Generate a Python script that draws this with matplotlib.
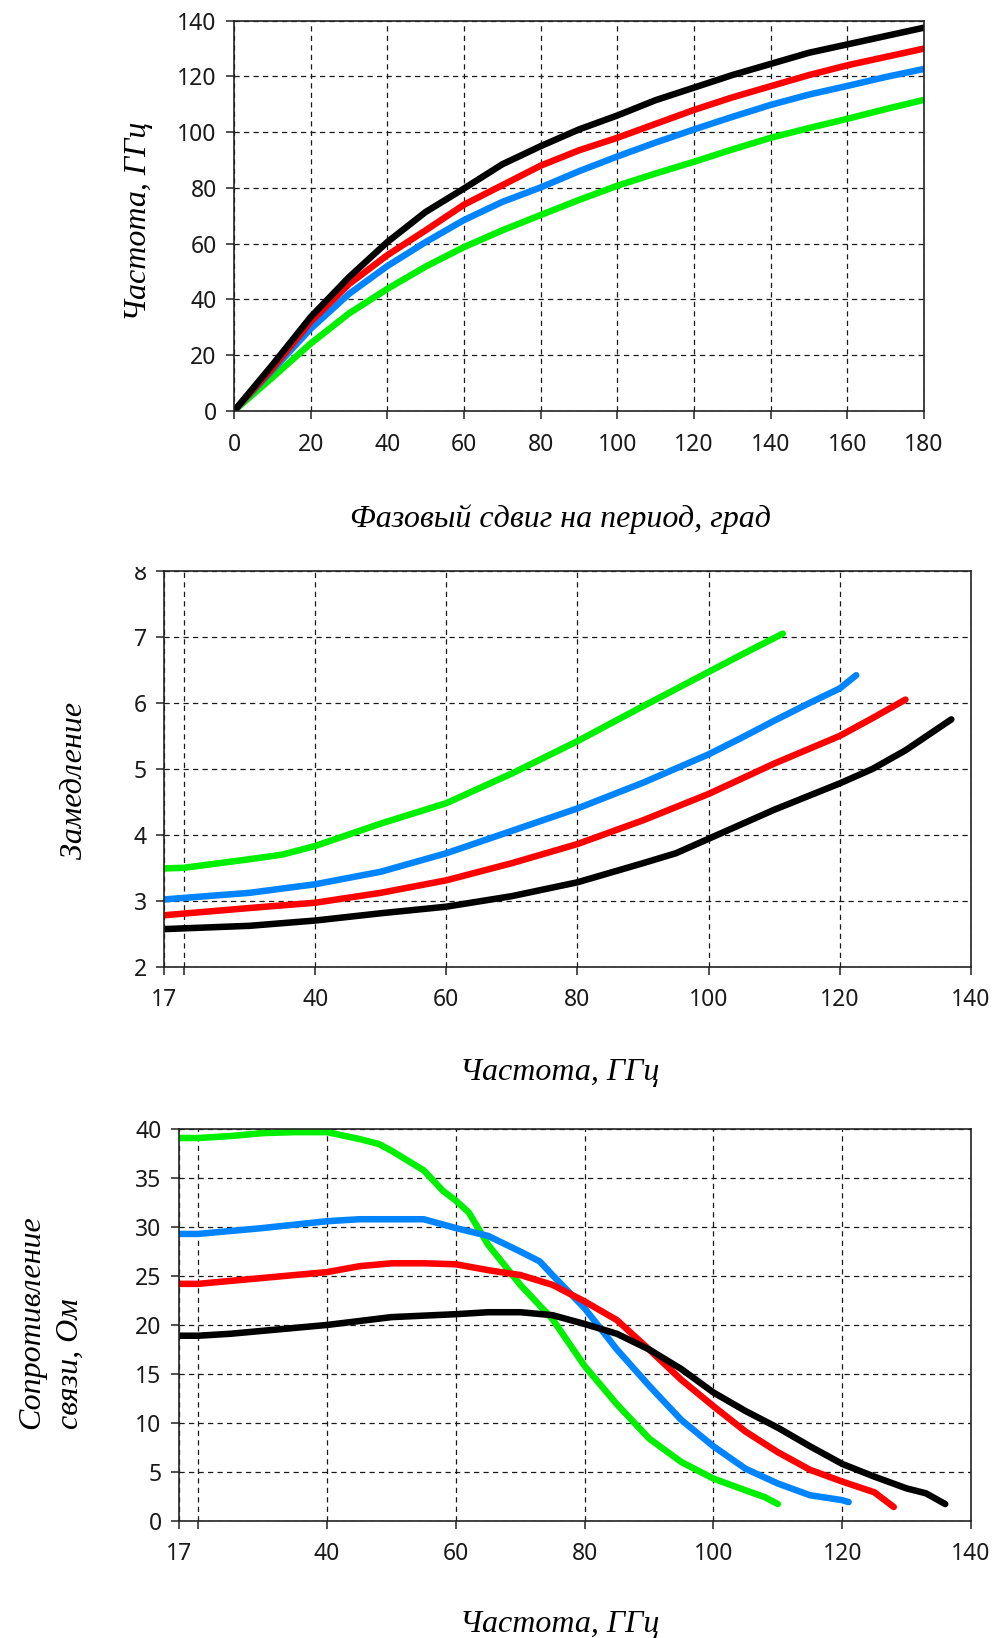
import numpy as np
import matplotlib
matplotlib.use("Agg")
import matplotlib.pyplot as plt
from matplotlib.transforms import Bbox, TransformedBbox

# Дисперсия: фазовый сдвиг на период, град -> частота, ГГц
phase = [0, 10, 20, 30, 40, 50, 60, 70, 80, 90, 100, 110, 120, 130, 140, 150, 160, 170, 180]
f_black = [0, 16.5, 33.7, 48, 60.6, 71.4, 79.8, 88.5, 95, 101, 106, 111.5, 116, 120.5, 124.5, 128.5, 131.5, 134.5, 137.5]
f_red = [0, 15.2, 32, 45.5, 55.9, 64.8, 74, 81, 88, 93.5, 98, 103, 108, 112.5, 116.5, 120.5, 124, 127, 130]
f_blue = [0, 14.6, 29.5, 42, 52, 60.6, 68.5, 75, 80.2, 86, 91.3, 96.3, 101, 105.5, 109.8, 113.5, 116.6, 119.8, 122.7]
f_green = [0, 12, 24.2, 35, 43.8, 51.8, 58.8, 64.8, 70.3, 75.7, 80.8, 85.2, 89.4, 93.8, 98, 101.5, 104.8, 108.3, 111.6]

# Замедление от частоты
x2_green = [17, 20, 30, 35, 40, 50, 60, 70, 80, 90, 100, 105, 111.3]
s_green = [3.49, 3.5, 3.63, 3.70, 3.83, 4.17, 4.48, 4.93, 5.42, 5.95, 6.47, 6.73, 7.05]
x2_blue = [17, 30, 40, 50, 60, 70, 80, 90, 100, 105, 110, 115, 120, 122.5]
s_blue = [3.02, 3.12, 3.25, 3.44, 3.72, 4.06, 4.40, 4.79, 5.22, 5.47, 5.73, 5.98, 6.22, 6.42]
x2_red = [17, 30, 40, 50, 60, 70, 80, 90, 100, 110, 120, 125, 130]
s_red = [2.78, 2.89, 2.97, 3.12, 3.31, 3.57, 3.86, 4.22, 4.62, 5.08, 5.5, 5.77, 6.05]
x2_black = [17, 30, 40, 50, 60, 70, 80, 90, 95, 100, 110, 120, 125, 130, 137]
s_black = [2.57, 2.62, 2.70, 2.81, 2.91, 3.07, 3.28, 3.57, 3.72, 3.94, 4.38, 4.78, 5.0, 5.28, 5.75]

# Сопротивление связи от частоты
x3_green = [17, 20, 25, 30, 35, 40, 45, 48, 50, 55, 58, 60, 62, 65, 70, 75, 80, 85, 90, 95, 100, 105, 108, 110]
r_green = [39.1, 39.1, 39.3, 39.6, 39.7, 39.7, 39.0, 38.5, 37.8, 35.8, 33.7, 32.7, 31.5, 28.2, 24.1, 20.6, 15.8, 11.9, 8.4, 6.0, 4.3, 3.1, 2.4, 1.7]
x3_blue = [17, 20, 30, 40, 45, 50, 55, 60, 65, 70, 73, 75, 80, 85, 90, 95, 100, 105, 110, 115, 120, 121]
r_blue = [29.3, 29.3, 29.9, 30.6, 30.8, 30.8, 30.8, 29.9, 29.1, 27.5, 26.5, 25.1, 21.7, 17.5, 13.8, 10.3, 7.6, 5.3, 3.8, 2.6, 2.1, 1.9]
x3_red = [17, 20, 30, 40, 45, 50, 55, 60, 65, 70, 75, 80, 85, 90, 95, 100, 105, 110, 115, 120, 125, 128]
r_red = [24.2, 24.2, 24.8, 25.4, 26.0, 26.3, 26.3, 26.2, 25.6, 25.1, 24.1, 22.4, 20.5, 17.5, 14.4, 11.7, 9.1, 7.0, 5.2, 4.0, 2.9, 1.4]
x3_black = [17, 20, 25, 30, 40, 50, 60, 65, 70, 75, 80, 85, 90, 95, 100, 105, 110, 115, 120, 125, 130, 133, 136]
r_black = [18.9, 18.9, 19.1, 19.4, 20.0, 20.8, 21.1, 21.3, 21.3, 21.0, 20.1, 19.1, 17.5, 15.5, 13.1, 11.2, 9.5, 7.6, 5.8, 4.5, 3.3, 2.8, 1.7]

freq_ticks = [17, 20, 40, 60, 80, 100, 120, 140]
freq_labels = ['17', '', '40', '60', '80', '100', '120', '140']

GREEN = '#00f000'
BLUE = '#0084ff'
RED = '#ff0000'
BLACK = '#000000'

plt.rcParams['font.family'] = ['Noto Sans', 'DejaVu Sans']
label_font = dict(family=['Liberation Serif', 'DejaVu Serif'], style='italic', size=23)

W, H = 996, 1638
fig = plt.figure(figsize=(W / 100, H / 100), dpi=100)


def box(left, top, right, bottom):
    # пиксели картинки -> доли фигуры
    return [left / W, 1 - bottom / H, (right - left) / W, (bottom - top) / H]


def style(ax):
    ax.grid(True, color='#1a1a1a', linewidth=0.9, dashes=(4.2, 3.4))
    ax.set_axisbelow(True)
    for sp in ax.spines.values():
        sp.set_linewidth(1.2)
        sp.set_color('#222222')
    ax.tick_params(direction='out', length=5.5, width=1.1, color='#222222',
                   labelsize=16.5, labelcolor='#1a1a1a')
    ax.tick_params(axis='x', pad=10)
    ax.tick_params(axis='y', pad=7)


lw = 4.7

# --- верхний график ---
ax1 = fig.add_axes(box(234, 20.7, 924, 411))
ax1.plot(phase, f_green, color=GREEN, lw=lw, solid_capstyle='round')
ax1.plot(phase, f_blue, color=BLUE, lw=lw, solid_capstyle='round')
ax1.plot(phase, f_red, color=RED, lw=lw, solid_capstyle='round')
ax1.plot(phase, f_black, color=BLACK, lw=lw, solid_capstyle='round')
ax1.set_xlim(0, 180)
ax1.set_ylim(0, 140)
ax1.set_xticks(np.arange(0, 181, 20))
ax1.set_yticks(np.arange(0, 141, 20))
style(ax1)
fig.text(560 / W, 1 - 527 / H, 'Фазовый сдвиг на период, град', ha='center', va='baseline', **label_font)
fig.text(138 / W, 1 - 221 / H, 'Частота, ГГц', rotation=90, ha='center', va='center', **label_font)

# --- средний график ---
ax2 = fig.add_axes(box(164.3, 571, 971, 966.7))
ax2.plot(x2_green, s_green, color=GREEN, lw=lw, solid_capstyle='round')
ax2.plot(x2_blue, s_blue, color=BLUE, lw=lw, solid_capstyle='round')
ax2.plot(x2_red, s_red, color=RED, lw=lw, solid_capstyle='round')
ax2.plot(x2_black, s_black, color=BLACK, lw=lw, solid_capstyle='round')
ax2.set_xlim(17, 140)
ax2.set_ylim(2, 8)
ax2.set_xticks(freq_ticks)
ax2.set_xticklabels(freq_labels)
ax2.set_yticks(np.arange(2, 9, 1))
style(ax2)
# верх цифры 8 обрезан, как на исходной картинке
clip = TransformedBbox(Bbox([[0, 0], [1, 1 - 567 / H]]), fig.transFigure)
top_lab = ax2.yaxis.get_major_ticks()[-1].label1
top_lab.set_clip_on(True)
top_lab.set_clip_box(clip)
fig.text(560 / W, 1 - 1080 / H, 'Частота, ГГц', ha='center', va='baseline', **label_font)
fig.text(74 / W, 1 - 780 / H, 'Замедление', rotation=90, ha='center', va='center', **label_font)

# --- нижний график ---
ax3 = fig.add_axes(box(179, 1129.2, 971, 1520.7))
ax3.plot(x3_green, r_green, color=GREEN, lw=lw, solid_capstyle='round')
ax3.plot(x3_blue, r_blue, color=BLUE, lw=lw, solid_capstyle='round')
ax3.plot(x3_red, r_red, color=RED, lw=lw, solid_capstyle='round')
ax3.plot(x3_black, r_black, color=BLACK, lw=lw, solid_capstyle='round')
ax3.set_xlim(17, 140)
ax3.set_ylim(0, 40)
ax3.set_xticks(freq_ticks)
ax3.set_xticklabels(freq_labels)
ax3.set_yticks(np.arange(0, 41, 5))
style(ax3)
fig.text(560 / W, 1 - 1632 / H, 'Частота, ГГц', ha='center', va='baseline', **label_font)
fig.text(51 / W, 1 - 1322 / H, 'Сопротивление\nсвязи, Ом', rotation=90, ha='center', va='center',
         multialignment='left', linespacing=1.45, **label_font)

fig.savefig('out.png', dpi=100)
